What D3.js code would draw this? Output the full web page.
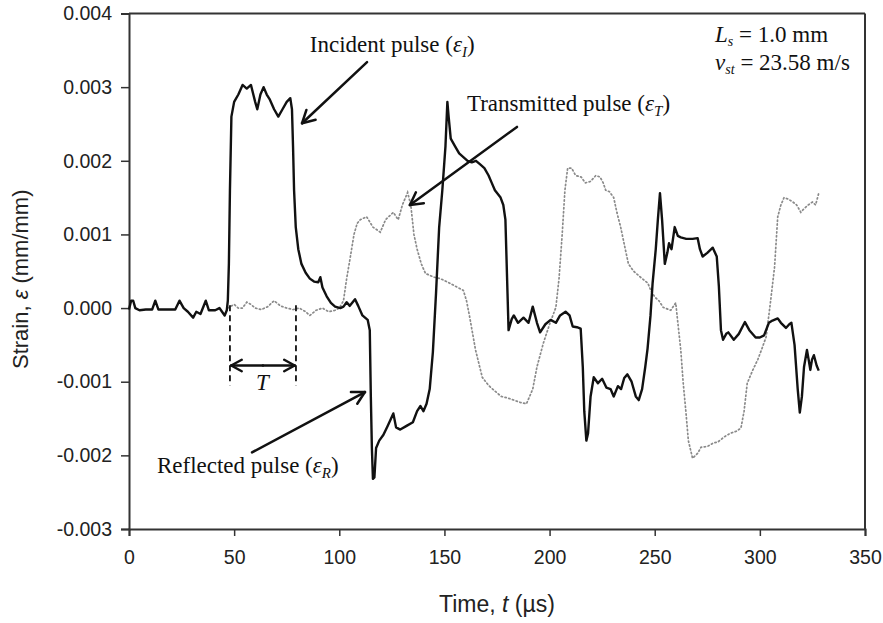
<!DOCTYPE html>
<html>
<head>
<meta charset="utf-8">
<script src="https://cdn.jsdelivr.net/npm/d3@7"></script>
<style>
  html, body { margin: 0; padding: 0; background: #fff; }
  svg { display: block; }
</style>
</head>
<body>
<svg id="chart" width="883" height="623"></svg>
<script>
// ---------------- DATA ----------------
// Incident + reflected pulse (solid) : time (µs) and strain (mm/mm)
const solidTime = [0,1,2,3,5,8,11,12.5,14,18,22,24,26,28,30.5,32,34,36.5,38,41,43,45.5,46.5,47,47.5,48,48.7,50,52,54,56,58,60,61,62.5,64,65.5,67,69,71,73,75,76.7,77.5,78,78.5,79.3,80.5,82,84,86,88,90,91,92,94,96,98,100.5,102,103.5,105,107.5,109,111,113.5,114.5,115,115.5,116,116.7,117.5,119,121,123,125.7,127,129,132,135,137,138.6,140,141.5,143,144.5,146,147.5,149,150.5,151.4,152,153,155,157,159,161,163,165,167,169,171,172.5,174,176.7,178,179,180,180.5,182,183,185,187.6,190,192,194,195.5,198,200.5,203,205,207.6,209.5,211,213,214.8,215.8,216.5,217.5,218.3,219.5,221,223,225,227,229,230.5,232.5,234,235.5,237,239,241,242.4,244,245.5,246.6,248,249,250.5,251.5,252.5,253.5,254.8,256,256.8,258,259.5,261,262.4,265,268,270.4,271.5,272.8,275,277.6,279.5,280.5,281.5,282.5,284,285,287.6,290,292.9,295,298,300,302,304.3,306,308.5,310,312.4,314,315,316.5,318,319,320,321,322.4,323.2,324,324.8,325.7,327,328];
const solidStrain = [-0.00002,0.0001,0.0001,0.0,-0.00003,-0.00002,-0.00002,0.0001,-0.00002,-0.00002,-0.00002,0.0001,0.0,-0.00005,-0.00013,-0.00005,-0.00008,0.0001,-0.00003,-0.00003,0.0,-0.0001,-0.00003,0.0001,0.0006,0.0016,0.0026,0.0028,0.0029,0.00303,0.00298,0.00303,0.0028,0.0027,0.0029,0.003,0.0029,0.00283,0.0027,0.0026,0.0027,0.0028,0.00285,0.0027,0.0022,0.0016,0.0011,0.0008,0.0006,0.00048,0.0004,0.00036,0.00035,0.00042,0.00028,0.00016,0.00007,0.00002,0.0,0.00002,0.00008,0.00003,0.00012,0.00003,-0.0001,-0.00016,-0.0003,-0.0012,-0.0019,-0.00232,-0.0023,-0.0019,-0.0018,-0.00172,-0.0016,-0.00143,-0.00162,-0.00165,-0.0016,-0.00155,-0.0014,-0.00133,-0.0014,-0.0013,-0.0011,-0.0006,0.0002,0.0011,0.0016,0.0022,0.0028,0.0026,0.0023,0.0022,0.0021,0.00205,0.002,0.00198,0.002,0.00195,0.0019,0.0018,0.0017,0.0016,0.0015,0.0014,0.0012,0.0002,-0.0003,-0.00015,-0.0001,-0.0002,-0.00013,-0.0002,0.00002,-0.0002,-0.00033,-0.00022,-0.00016,-0.0002,-0.0001,-0.00005,-0.0001,-0.00025,-0.00026,-0.00028,-0.0008,-0.0014,-0.0018,-0.0017,-0.0012,-0.00094,-0.00102,-0.00096,-0.00108,-0.0011,-0.0012,-0.00106,-0.0011,-0.00095,-0.0009,-0.001,-0.0012,-0.00125,-0.0011,-0.0008,-0.00055,-0.0001,0.00034,0.0008,0.0012,0.00156,0.0012,0.0006,0.00075,0.00088,0.0008,0.0011,0.00098,0.00096,0.00094,0.00094,0.00095,0.0008,0.0007,0.00075,0.00082,0.0007,0.0003,-0.0003,-0.00043,-0.00035,-0.00033,-0.00043,-0.00035,-0.00019,-0.0003,-0.0004,-0.0004,-0.00037,-0.0002,-0.00017,-0.00014,-0.0002,-0.00027,-0.00022,-0.0002,-0.0005,-0.0011,-0.00142,-0.0012,-0.0008,-0.00057,-0.0007,-0.00084,-0.0007,-0.00064,-0.00078,-0.00085];

// Transmitted pulse (dotted)
const transTime = [47,50,52,54,56,58,60,63,66,69,72,75,78,81,84,86,89,92,95,98,100,102,103.5,105,107,108.5,110,113,116,119.5,122,125.7,128,130,132.5,134,135.5,137,139,141,145,148,151,155,159,160.5,162,164.8,168,171,173.3,177,180,183,186,189,190.5,192,194,197,200,203,204.5,206,207.3,208.6,210.5,212.4,215,217,219.5,222,224,225.5,226.7,228.5,230.5,232,233.8,236,237.5,240,242,244,246.7,248,250,252,254,257.6,260,261,262.4,263.5,264.8,266,268,270.5,272,275,278,280,283,286,289,291,292.5,294,296.5,299,301,303,305,307,308.5,310,311.5,313.5,315.7,317.5,319.5,321,323,325,326.5,328];
const transStrain = [0.0,0.00005,0.0,0.0,0.00008,0.00005,0.0,-0.00002,0.00002,0.0001,0.00003,0.0,-0.00002,0.0,-0.00005,-0.0001,-0.00003,0.0,-0.00005,-0.00003,0.0,0.0001,0.0004,0.00065,0.001,0.00115,0.0012,0.00124,0.0011,0.00103,0.0012,0.0013,0.0012,0.0014,0.00157,0.0014,0.001,0.0008,0.0006,0.00047,0.00042,0.0004,0.00036,0.0003,0.00024,0.0001,-0.00012,-0.00057,-0.00094,-0.00105,-0.00111,-0.0012,-0.00122,-0.00125,-0.00128,-0.0013,-0.0012,-0.0011,-0.0008,-0.00048,-0.00022,0.00001,0.0004,0.001,0.0016,0.0019,0.0019,0.0018,0.00178,0.0017,0.00172,0.0018,0.00178,0.0017,0.0016,0.00158,0.0015,0.0013,0.0011,0.0008,0.0006,0.0005,0.00045,0.0004,0.00034,0.00025,0.00015,0.0001,0.00001,-0.00003,0.00007,-0.0002,-0.00057,-0.001,-0.0014,-0.0018,-0.00204,-0.00197,-0.00189,-0.00188,-0.00183,-0.00182,-0.00175,-0.0017,-0.00167,-0.00163,-0.0014,-0.00102,-0.00085,-0.0007,-0.00055,-0.00039,0.00007,0.00056,0.00124,0.0014,0.0015,0.00148,0.00144,0.0014,0.0013,0.00135,0.0014,0.00144,0.0014,0.00156];

// Axes
const xTicks = [0, 50, 100, 150, 200, 250, 300, 350];
const yTicks = [-0.003, -0.002, -0.001, 0, 0.001, 0.002, 0.003, 0.004];
const yTickLabels = ["-0.003", "-0.002", "-0.001", "0.000", "0.001", "0.002", "0.003", "0.004"];

// ---------------- CHART ----------------
const svg = d3.select("#chart");
const L = 129, R = 865, T = 13.5, B = 529;
const x = d3.scaleLinear().domain([0, 350]).range([L, R]);
const y = d3.scaleLinear().domain([-0.003, 0.004]).range([B, T]);

const axisColor = "#333";
const tickFont = "'Liberation Sans', Arial, sans-serif";
const serif = "'Liberation Serif', 'Times New Roman', serif";

// frame top/right
svg.append("line").attr("x1", L).attr("x2", R).attr("y1", T).attr("y2", T)
  .attr("stroke", axisColor).attr("stroke-width", 2);
svg.append("line").attr("x1", R).attr("x2", R).attr("y1", T).attr("y2", B)
  .attr("stroke", axisColor).attr("stroke-width", 2);

const yAxis = svg.append("g").attr("transform", `translate(${L},0)`)
  .call(d3.axisLeft(y).tickValues(yTicks).tickFormat((d, i) => yTickLabels[i]).tickSize(8).tickPadding(9));
const xAxis = svg.append("g").attr("transform", `translate(0,${B})`)
  .call(d3.axisBottom(x).tickValues(xTicks).tickFormat(d3.format("d")).tickSize(7).tickPadding(14));
[yAxis, xAxis].forEach(g => {
  g.select(".domain").attr("stroke", axisColor).attr("stroke-width", 2);
  g.selectAll(".tick line").attr("stroke", axisColor).attr("stroke-width", 1.5);
  g.selectAll(".tick text").attr("fill", "#222").style("font-family", tickFont).style("font-size", "19.5px");
});

// Transmitted (dotted grey)
const lineGen = d3.line().x(d => x(d[0])).y(d => y(d[1]));
svg.append("path")
  .datum(transTime.map((t, i) => [t, transStrain[i]]))
  .attr("d", lineGen)
  .attr("fill", "none").attr("stroke", "#8a8a8a").attr("stroke-width", 1.7)
  .attr("stroke-dasharray", "1.3 2.6").attr("stroke-linecap", "round");

// Incident / reflected (solid black)
svg.append("path")
  .datum(solidTime.map((t, i) => [t, solidStrain[i]]))
  .attr("d", lineGen)
  .attr("fill", "none").attr("stroke", "#111").attr("stroke-width", 2.4)
  .attr("stroke-linejoin", "round");

// Axis titles
svg.append("text")
  .attr("transform", `translate(28,${(T + B) / 2 + 8}) rotate(-90)`)
  .attr("text-anchor", "middle").attr("fill", "#222")
  .style("font-family", tickFont).style("font-size", "22px")
  .call(t => {
    t.append("tspan").text("Strain, ");
    t.append("tspan").attr("font-style", "italic").text("ε");
    t.append("tspan").text(" (mm/mm)");
  });
svg.append("text")
  .attr("x", (L + R) / 2).attr("y", 612)
  .attr("text-anchor", "middle").attr("fill", "#222")
  .style("font-family", tickFont).style("font-size", "23px")
  .call(t => {
    t.append("tspan").text("Time, ");
    t.append("tspan").attr("font-style", "italic").text("t");
    t.append("tspan").text(" (µs)");
  });

// ---------------- ANNOTATIONS ----------------
const ink = "#111";
const annSize = 23;
function arrow(x1, y1, x2, y2, headLen = 14) {
  const g = svg.append("g").attr("stroke", ink).attr("stroke-width", 2.5).attr("fill", "none").attr("stroke-linecap", "round");
  g.append("line").attr("x1", x1).attr("y1", y1).attr("x2", x2).attr("y2", y2);
  const a = Math.atan2(y2 - y1, x2 - x1);
  [0.5, -0.5].forEach(da => {
    g.append("line").attr("x1", x2).attr("y1", y2)
      .attr("x2", x2 - headLen * Math.cos(a + da)).attr("y2", y2 - headLen * Math.sin(a + da));
  });
}
function label(px, py, main, sub) {
  const t = svg.append("text").attr("x", px).attr("y", py).attr("fill", ink)
    .style("font-family", serif).style("font-size", annSize + "px");
  t.append("tspan").text(main + " (");
  t.append("tspan").attr("font-style", "italic").text("ε");
  t.append("tspan").attr("font-style", "italic").attr("dy", 5).style("font-size", "15px").text(sub);
  t.append("tspan").attr("dy", -5).text(")");
}

// Incident
label(x(86), y(0.00348), "Incident pulse", "I");
arrow(x(113.2), y(0.00334), x(82.3), y(0.00251));
// Transmitted
label(x(160.7), y(0.00268), "Transmitted pulse", "T");
arrow(x(184.5), y(0.00246), x(133.6), y(0.0014));
// Reflected
label(x(13.3), y(-0.00224), "Reflected pulse", "R");
arrow(x(58.5), y(-0.00196), x(112.2), y(-0.00114));

// Period T
[48, 79.4].forEach(t => {
  svg.append("line").attr("x1", x(t)).attr("x2", x(t)).attr("y1", y(0.00004)).attr("y2", y(-0.00105))
    .attr("stroke", ink).attr("stroke-width", 1.8).attr("stroke-dasharray", "6 4");
});
arrow(x(63.7), y(-0.00078), x(48.6), y(-0.00078), 12);
arrow(x(63.7), y(-0.00078), x(78.8), y(-0.00078), 12);
svg.append("text").attr("x", x(63.4)).attr("y", y(-0.00111)).attr("text-anchor", "middle")
  .attr("fill", ink).style("font-family", serif).style("font-size", annSize + "px").attr("font-style", "italic").text("T");

// Specimen info
const info1 = svg.append("text").attr("x", x(278.7)).attr("y", y(0.00361)).attr("fill", ink)
  .style("font-family", serif).style("font-size", annSize + "px");
info1.append("tspan").attr("font-style", "italic").text("L");
info1.append("tspan").attr("font-style", "italic").attr("dy", 4).style("font-size", "14px").text("s");
info1.append("tspan").attr("dy", -4).text(" = 1.0 mm");
const info2 = svg.append("text").attr("x", x(278.7)).attr("y", y(0.00323)).attr("fill", ink)
  .style("font-family", serif).style("font-size", annSize + "px");
info2.append("tspan").attr("font-style", "italic").text("v");
info2.append("tspan").attr("font-style", "italic").attr("dy", 4).style("font-size", "14px").text("st");
info2.append("tspan").attr("dy", -4).text(" = 23.58 m/s");
</script>
</body>
</html>
